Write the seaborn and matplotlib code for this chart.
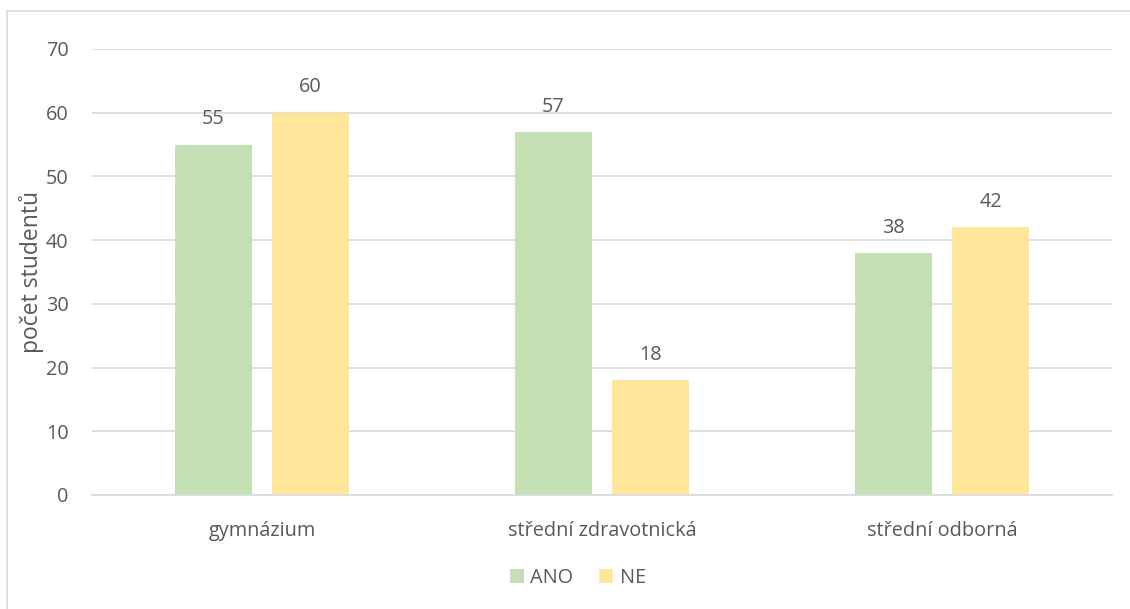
import matplotlib
matplotlib.use("Agg")
import matplotlib.pyplot as plt
import seaborn as sns
import pandas as pd
from matplotlib.lines import Line2D
from matplotlib.patches import Patch

categories = ["gymnázium", "střední zdravotnická", "střední odborná"]
series_names = ["ANO", "NE"]
ano_values = [55, 57, 38]
ne_values = [60, 18, 42]
y_ticks = [0, 10, 20, 30, 40, 50, 60, 70]
y_label = "počet studentů"

colors = {"ANO": "#C5E0B4", "NE": "#FFE699"}
text_color = "#595959"
grid_color = "#D9D9D9"

df = pd.DataFrame({
    "kategorie": categories * 2,
    "odpověď": ["ANO"] * len(categories) + ["NE"] * len(categories),
    "hodnota": ano_values + ne_values,
})

sns.set_theme(style="white")
plt.rcParams["font.family"] = ["Open Sans", "DejaVu Sans"]

FS = 14.3

fig = plt.figure(figsize=(11.3, 6.09), dpi=100)
ax = fig.add_axes([92 / 1130, 1 - 495 / 609, (1112 - 92) / 1130, (495 - 49) / 609])

sns.barplot(data=df, x="kategorie", y="hodnota", hue="odpověď", order=categories,
            hue_order=series_names, palette=colors, width=0.57, gap=0.214,
            saturation=1, ax=ax, legend=False, errorbar=None, linewidth=0)

ax.set_ylim(0, 70)
ax.set_xlim(-0.5, 2.5)
ax.set_yticks(y_ticks)
ax.set_yticklabels([str(t) for t in y_ticks])
ax.yaxis.grid(True, color=grid_color, linewidth=1.2)
ax.set_axisbelow(True)
for s in ["top", "right", "left"]:
    ax.spines[s].set_visible(False)
ax.spines["bottom"].set_color(grid_color)
ax.spines["bottom"].set_linewidth(1.2)
ax.tick_params(axis="y", length=0, pad=17, labelsize=FS, labelcolor=text_color)
ax.tick_params(axis="x", length=0, pad=19, labelsize=FS, labelcolor=text_color)
ax.set_xlabel("")
ax.set_ylabel(y_label, fontsize=16.5, color=text_color, labelpad=1)

for cont in ax.containers:
    ax.bar_label(cont, labels=[f"{int(v)}" for v in cont.datavalues], padding=11,
                 fontsize=FS, color=text_color)

handles = [Patch(facecolor=colors[n], edgecolor="none", label=n) for n in series_names]
fig.legend(handles=handles, loc="center", bbox_to_anchor=(578 / 1130, 1 - 578 / 609),
           ncol=2, frameon=False, fontsize=FS, labelcolor=text_color,
           handlelength=0.7, handleheight=0.7, handletextpad=0.35, columnspacing=1.3)

# outer chart border (top and left visible)
fig.add_artist(Line2D([7 / 1130, 1.0], [1 - 11 / 609, 1 - 11 / 609], color=grid_color,
                      linewidth=1.2, transform=fig.transFigure))
fig.add_artist(Line2D([7 / 1130, 7 / 1130], [0.0, 1 - 11 / 609], color=grid_color,
                      linewidth=1.2, transform=fig.transFigure))

fig.savefig("out.png", dpi=100, facecolor="white")
